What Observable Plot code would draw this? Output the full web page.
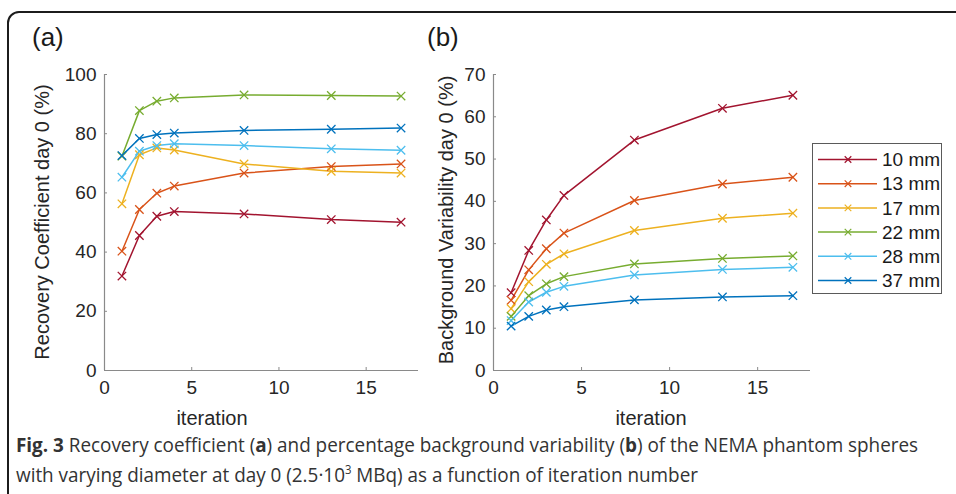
<!DOCTYPE html>
<html><head><meta charset="utf-8">
<script src="https://cdn.jsdelivr.net/npm/d3@7"></script>
<script src="https://cdn.jsdelivr.net/npm/@observablehq/plot@0.6"></script>
<style>
body{margin:0;background:#fff;}
#wrap{position:relative;width:956px;height:494px;overflow:hidden;background:#fff;}
#wrap svg{position:absolute;left:0;top:0;}
</style></head><body><div id="wrap"></div>
<script>
// ---- data ----
const iterations = [1, 2, 3, 4, 8, 13, 17];
const sizes = ["10 mm", "13 mm", "17 mm", "22 mm", "28 mm", "37 mm"];
const colors = ["#A2142F", "#D95319", "#EDB120", "#77AC30", "#4DBEEE", "#0072BD"];

// (a) Recovery coefficient day 0 (%)
const rc10 = [31.9, 45.6, 52.1, 53.7, 52.9, 51.0, 50.1];
const rc13 = [40.3, 54.4, 59.9, 62.3, 66.7, 68.9, 69.8];
const rc17 = [56.3, 72.9, 75.2, 74.5, 69.8, 67.3, 66.7];
const rc22 = [72.4, 87.8, 91.0, 92.1, 93.1, 92.9, 92.7];
const rc28 = [65.3, 74.1, 76.0, 76.6, 76.0, 74.9, 74.4];
const rc37 = [72.6, 78.4, 79.7, 80.2, 81.1, 81.5, 81.9];

// (b) Background variability day 0 (%)
const bv10 = [18.4, 28.4, 35.6, 41.4, 54.5, 62.0, 65.1];
const bv13 = [16.6, 23.8, 28.8, 32.5, 40.2, 44.1, 45.7];
const bv17 = [14.6, 21.0, 25.1, 27.6, 33.1, 36.0, 37.2];
const bv22 = [12.8, 17.7, 20.5, 22.2, 25.2, 26.5, 27.1];
const bv28 = [11.8, 16.2, 18.5, 19.9, 22.6, 23.9, 24.4];
const bv37 = [10.5, 12.8, 14.3, 15.1, 16.7, 17.4, 17.7];

const xTicks = [0, 5, 10, 15];
const yTicksA = [0, 20, 40, 60, 80, 100];
const yTicksB = [0, 10, 20, 30, 40, 50, 60, 70];

// ---- build tidy rows ----
function tidy(series) {
  const rows = [];
  series.forEach((vals, i) => vals.forEach((v, j) => rows.push({size: sizes[i], iter: iterations[j], value: v})));
  return rows;
}
const rowsA = tidy([rc10, rc13, rc17, rc22, rc28, rc37]);
const rowsB = tidy([bv10, bv13, bv17, bv22, bv28, bv37]);

const W = 956, H = 494;
const FONT = "'Liberation Sans', Arial, Helvetica, sans-serif";
const AXIS = "#8a8a8a", TXT = "#262626";

function panel(rows, yDomain, yTicks, ml, mr) {
  return Plot.plot({
    width: W, height: H,
    marginLeft: ml, marginRight: mr, marginTop: 74, marginBottom: 124,
    style: {background: "transparent", fontFamily: FONT, fontSize: "19px", color: TXT, overflow: "visible"},
    x: {domain: [0, 18]},
    y: {domain: yDomain},
    color: {domain: sizes, range: colors},
    marks: [
      Plot.ruleX([0], {stroke: AXIS, strokeWidth: 1.2}),
      Plot.ruleY([yDomain[0]], {stroke: AXIS, strokeWidth: 1.2}),
      Plot.axisX(xTicks, {tickSize: -3, tickPadding: 13, stroke: AXIS, fill: TXT, fontSize: 19, label: null}),
      Plot.axisY(yTicks, {tickSize: -3, tickPadding: 11, stroke: AXIS, fill: TXT, fontSize: 19, label: null}),
      Plot.line(rows, {x: "iter", y: "value", stroke: "size", z: "size", strokeWidth: 1.5}),
      Plot.dot(rows, {x: "iter", y: "value", stroke: "size", symbol: "times", r: 3.9, strokeWidth: 1.3})
    ]
  });
}

const wrap = document.getElementById("wrap");
wrap.appendChild(panel(rowsA, [0, 100], yTicksA, 104, W - 418));
wrap.appendChild(panel(rowsB, [0, 70], yTicksB, 493, W - 810));

// ---- overlay: frame, panel letters, axis titles, legend, caption ----
const svg = d3.create("svg").attr("width", W).attr("height", H)
  .style("font-family", FONT).style("pointer-events", "none");

svg.append("path").attr("d", "M8,520 V23 A11,11 0 0 1 19,12 H970")
  .attr("fill", "none").attr("stroke", "#1c1c1c").attr("stroke-width", 2);

svg.append("text").attr("x", 32).attr("y", 46).attr("font-size", 26).attr("fill", "#1a1a1a").text("(a)");
svg.append("text").attr("x", 427).attr("y", 46).attr("font-size", 26).attr("fill", "#1a1a1a").text("(b)");

svg.append("text").attr("transform", "translate(49,222) rotate(-90)").attr("text-anchor", "middle")
  .attr("font-size", 20).attr("fill", TXT).text("Recovery Coefficient day 0 (%)");
svg.append("text").attr("transform", "translate(453,220) rotate(-90)").attr("text-anchor", "middle")
  .attr("font-size", 20).attr("fill", TXT).text("Background Variability day 0 (%)");

svg.append("text").attr("x", 212).attr("y", 425).attr("text-anchor", "middle")
  .attr("font-size", 20).attr("fill", TXT).text("iteration");
svg.append("text").attr("x", 651).attr("y", 425).attr("text-anchor", "middle")
  .attr("font-size", 20).attr("fill", TXT).text("iteration");

// legend
const lg = svg.append("g");
lg.append("rect").attr("x", 812.5).attr("y", 143.5).attr("width", 129).attr("height", 150)
  .attr("fill", "#fff").attr("stroke", "#5a5a5a").attr("stroke-width", 1);
sizes.forEach((s, i) => {
  const y = 159.5 + i * 24.2;
  lg.append("line").attr("x1", 818).attr("x2", 877).attr("y1", y).attr("y2", y)
    .attr("stroke", colors[i]).attr("stroke-width", 1.5);
  lg.append("path").attr("transform", `translate(848,${y})`)
    .attr("d", d3.symbol(d3.symbolTimes, 30)())
    .attr("fill", "none").attr("stroke", colors[i]).attr("stroke-width", 1.2);
  lg.append("text").attr("x", 882).attr("y", y).attr("dy", "0.35em")
    .attr("font-size", 19).attr("fill", "#1a1a1a").text(s);
});

// caption
const cap = svg.append("g").attr("font-family", "'Open Sans', 'Noto Sans', sans-serif")
  .attr("font-size", 20).attr("fill", "#333");
const l1 = cap.append("text").attr("x", 0).attr("y", 452);
l1.append("tspan").attr("font-weight", "bold").text("Fig. 3");
l1.append("tspan").text(" Recovery coefficient (");
l1.append("tspan").attr("font-weight", "bold").text("a");
l1.append("tspan").text(") and percentage background variability (");
l1.append("tspan").attr("font-weight", "bold").text("b");
l1.append("tspan").text(") of the NEMA phantom spheres");
const l2 = cap.append("text").attr("x", 0).attr("y", 482);
l2.append("tspan").text("with varying diameter at day 0 (2.5\u00B710");
l2.append("tspan").attr("font-size", 12).attr("dy", -8).text("3");
l2.append("tspan").attr("dy", 8).text(" MBq) as a function of iteration number");

wrap.appendChild(svg.node());
const w1 = l1.node().getComputedTextLength();
const sx = 903 / w1;
cap.attr("transform", `translate(16,0) scale(${sx},1)`);
</script>
</body></html>
